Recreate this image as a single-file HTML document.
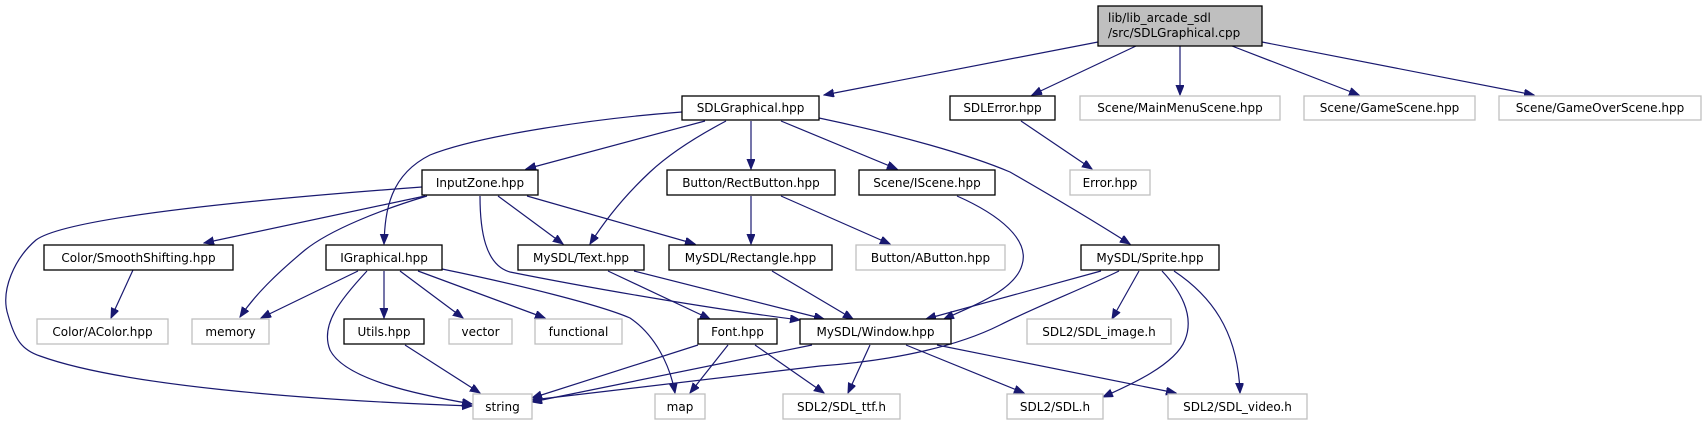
<!DOCTYPE html>
<html><head><meta charset="utf-8"><style>
html,body{margin:0;padding:0;background:#fff;}
svg{display:block;}
text{font-family:"DejaVu Sans","Liberation Sans",sans-serif;font-size:12px;fill:#000;}
.b{fill:#fff;stroke:#000;stroke-width:1.3;}
.g{fill:#fff;stroke:#bfbfbf;stroke-width:1.3;}
.e{fill:none;stroke:#191970;stroke-width:1.2;marker-end:url(#a);}
</style></head><body>
<svg width="1707" height="425" viewBox="0 0 1707 425" xmlns="http://www.w3.org/2000/svg">
<defs><marker id="a" markerUnits="userSpaceOnUse" markerWidth="11" markerHeight="9" refX="10" refY="4" orient="auto"><path d="M0,0 L10,4 L0,8 z" fill="#191970" stroke="#191970"/></marker></defs>

<!-- edges -->
<path class="e" d="M1098,42 L824,95"/>
<path class="e" d="M1136,46 L1032,95"/>
<path class="e" d="M1180,46 L1180,95"/>
<path class="e" d="M1232,46 L1359,95"/>
<path class="e" d="M1262,42 L1534,95"/>
<path class="e" d="M705,121 L526,169"/>
<path class="e" d="M682,112 C600,118 480,135 430,155 C390,175 385,210 384,244"/>
<path class="e" d="M726,121 C690,140 665,158 650,172 C620,200 602,225 590,244"/>
<path class="e" d="M751,121 L751,169"/>
<path class="e" d="M781,121 L897,169"/>
<path class="e" d="M819,118 C900,135 970,155 1010,172 C1050,195 1100,225 1130,244"/>
<path class="e" d="M1021,121 L1092,169"/>
<path class="e" d="M751,196 L751,244"/>
<path class="e" d="M781,196 L890,244"/>
<path class="e" d="M133,270 L111,318"/>
<path class="e" d="M422,187 C300,196 70,215 36,240 C15,258 0,290 8,315 C15,340 22,350 40,356 C120,385 300,400 472,406"/>
<path class="e" d="M425,196 L204,243"/>
<path class="e" d="M427,196 C380,210 330,230 305,250 C275,275 255,295 240,317"/>
<path class="e" d="M498,196 L563,244"/>
<path class="e" d="M527,196 L695,244"/>
<path class="e" d="M480,196 C480,230 485,265 510,272 C600,290 720,310 800,320"/>
<path class="e" d="M358,271 L261,318"/>
<path class="e" d="M367,271 C340,300 320,325 330,350 C345,380 420,395 472,404"/>
<path class="e" d="M384,271 L384,318"/>
<path class="e" d="M400,271 L463,318"/>
<path class="e" d="M418,271 L545,318"/>
<path class="e" d="M442,269 C520,285 600,305 630,318 C655,335 670,365 675,393"/>
<path class="e" d="M405,345 L480,393"/>
<path class="e" d="M608,271 L710,319"/>
<path class="e" d="M634,271 L824,319"/>
<path class="e" d="M772,271 L853,319"/>
<path class="e" d="M957,196 C1000,215 1030,240 1022,265 C1015,290 975,305 944,319"/>
<path class="e" d="M1101,271 L926,319"/>
<path class="e" d="M1119,271 C1080,290 1040,305 1000,325 C960,345 900,360 820,366 C700,380 600,392 532,400"/>
<path class="e" d="M1139,271 L1112,319"/>
<path class="e" d="M1162,271 C1180,290 1195,315 1185,340 C1175,365 1130,385 1103,397"/>
<path class="e" d="M1174,271 C1210,295 1238,330 1240,393"/>
<path class="e" d="M698,345 L532,398"/>
<path class="e" d="M728,345 L690,393"/>
<path class="e" d="M755,345 L824,393"/>
<path class="e" d="M812,345 L532,402"/>
<path class="e" d="M870,345 L848,393"/>
<path class="e" d="M906,345 L1024,393"/>
<path class="e" d="M937,345 L1176,393"/>

<!-- nodes -->
<rect x="1098" y="6" width="164" height="40" fill="#bfbfbf" stroke="#000" stroke-width="1.3"/>
<text x="1108" y="22">lib/lib_arcade_sdl</text>
<text x="1108" y="37">/src/SDLGraphical.cpp</text>

<rect class="b" x="682" y="96" width="137" height="24"/><text x="750.5" y="112" text-anchor="middle">SDLGraphical.hpp</text>
<rect class="b" x="950" y="96" width="105" height="24"/><text x="1002.5" y="112" text-anchor="middle">SDLError.hpp</text>
<rect class="g" x="1080" y="96" width="200" height="24"/><text x="1180" y="112" text-anchor="middle">Scene/MainMenuScene.hpp</text>
<rect class="g" x="1304" y="96" width="171" height="24"/><text x="1389.5" y="112" text-anchor="middle">Scene/GameScene.hpp</text>
<rect class="g" x="1499" y="96" width="202" height="24"/><text x="1600" y="112" text-anchor="middle">Scene/GameOverScene.hpp</text>

<rect class="b" x="422" y="170" width="116" height="25"/><text x="480" y="187" text-anchor="middle">InputZone.hpp</text>
<rect class="b" x="667" y="170" width="168" height="25"/><text x="751" y="187" text-anchor="middle">Button/RectButton.hpp</text>
<rect class="b" x="859" y="170" width="136" height="25"/><text x="927" y="187" text-anchor="middle">Scene/IScene.hpp</text>
<rect class="g" x="1070" y="170" width="80" height="25"/><text x="1110" y="187" text-anchor="middle">Error.hpp</text>

<rect class="b" x="44" y="245" width="189" height="25"/><text x="138.5" y="262" text-anchor="middle">Color/SmoothShifting.hpp</text>
<rect class="b" x="326" y="245" width="116" height="25"/><text x="384" y="262" text-anchor="middle">IGraphical.hpp</text>
<rect class="b" x="518" y="245" width="126" height="25"/><text x="581" y="262" text-anchor="middle">MySDL/Text.hpp</text>
<rect class="b" x="669" y="245" width="163" height="25"/><text x="750.5" y="262" text-anchor="middle">MySDL/Rectangle.hpp</text>
<rect class="g" x="856" y="245" width="149" height="25"/><text x="930.5" y="262" text-anchor="middle">Button/AButton.hpp</text>
<rect class="b" x="1081" y="245" width="138" height="25"/><text x="1150" y="262" text-anchor="middle">MySDL/Sprite.hpp</text>

<rect class="g" x="37" y="319" width="131" height="25"/><text x="102.5" y="336" text-anchor="middle">Color/AColor.hpp</text>
<rect class="g" x="192" y="319" width="77" height="25"/><text x="230.5" y="336" text-anchor="middle">memory</text>
<rect class="b" x="344" y="319" width="80" height="25"/><text x="384" y="336" text-anchor="middle">Utils.hpp</text>
<rect class="g" x="449" y="319" width="63" height="25"/><text x="480.5" y="336" text-anchor="middle">vector</text>
<rect class="g" x="535" y="319" width="87" height="25"/><text x="578.5" y="336" text-anchor="middle">functional</text>
<rect class="b" x="698" y="319" width="79" height="25"/><text x="737.5" y="336" text-anchor="middle">Font.hpp</text>
<rect class="b" x="800" y="319" width="151" height="25"/><text x="875.5" y="336" text-anchor="middle">MySDL/Window.hpp</text>
<rect class="g" x="1027" y="319" width="144" height="25"/><text x="1099" y="336" text-anchor="middle">SDL2/SDL_image.h</text>

<rect class="g" x="473" y="394" width="59" height="25"/><text x="502.5" y="411" text-anchor="middle">string</text>
<rect class="g" x="655" y="394" width="50" height="25"/><text x="680" y="411" text-anchor="middle">map</text>
<rect class="g" x="783" y="394" width="117" height="25"/><text x="841.5" y="411" text-anchor="middle">SDL2/SDL_ttf.h</text>
<rect class="g" x="1007" y="394" width="96" height="25"/><text x="1055" y="411" text-anchor="middle">SDL2/SDL.h</text>
<rect class="g" x="1168" y="394" width="139" height="25"/><text x="1237.5" y="411" text-anchor="middle">SDL2/SDL_video.h</text>
</svg>
</body></html>
